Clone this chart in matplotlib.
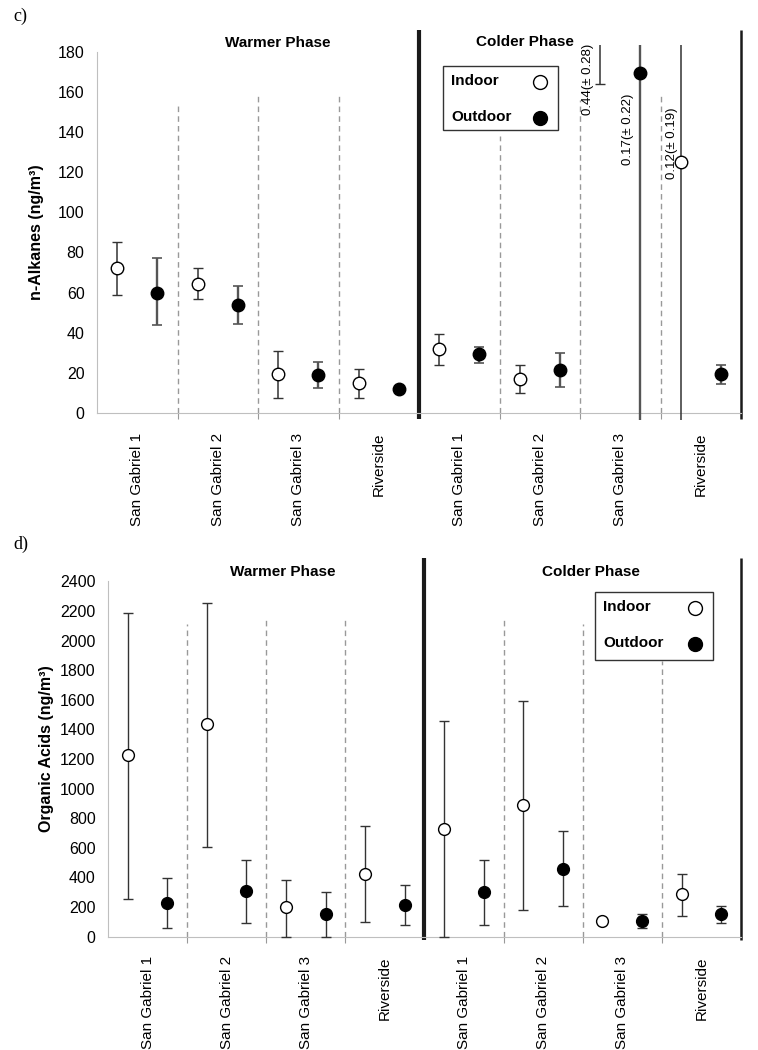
import numpy as np
import matplotlib
matplotlib.use("Agg")
import matplotlib.pyplot as plt
from matplotlib.lines import Line2D
from matplotlib.patches import Rectangle

plt.rcParams['font.family'] = ['Liberation Sans', 'DejaVu Sans']

sites = ['San Gabriel 1', 'San Gabriel 2', 'San Gabriel 3', 'Riverside',
         'San Gabriel 1', 'San Gabriel 2', 'San Gabriel 3', 'Riverside']

# c) n-alkanes (ng/m3)
alk_in = [72, 64.5, 19.5, 15, 32, 17, 440, 125]
alk_in_lo = [13, 7.5, 12, 7.5, 8.2, 7, 276, 190]
alk_in_hi = [13, 7.5, 11.5, 7, 7.5, 7, 280, 190]
alk_out = [60, 54, 19, 12, 29.5, 21.5, 169.5, 19.5]
alk_out_lo = [16, 9.5, 6.5, 1, 4.4, 8.6, 220, 5]
alk_out_hi = [17, 9.5, 6.5, 1, 3.6, 8.3, 220, 4.5]
alk_notes = ['0.44(± 0.28)', '0.17(± 0.22)', '0.12(± 0.19)']

# d) organic acids (ng/m3)
org_in = [1225, 1435, 200, 425, 725, 890, 105, 285]
org_in_lo = [970, 830, 200, 325, 725, 710, 0, 145]
org_in_hi = [965, 820, 180, 325, 730, 705, 0, 140]
org_out = [230, 310, 150, 215, 300, 460, 105, 150]
org_out_lo = [170, 215, 150, 135, 220, 255, 45, 60]
org_out_hi = [165, 210, 155, 135, 215, 255, 45, 55]

W, H = 758, 1050
fig = plt.figure(figsize=(W / 100, H / 100), dpi=100)
ax1 = fig.add_axes([0.128, 0.600, 0.8496, 0.3574])
ax2 = fig.add_axes([0.1425, 0.1044, 0.835, 0.3644])

x = np.arange(8)


def style_axis(ax, ylim, ymax, step, sep_tops):
    ax.set_xlim(0, 8)
    ax.set_ylim(*ylim)
    for s in ['top', 'right']:
        ax.spines[s].set_visible(False)
    ax.spines['left'].set_bounds(0, ymax)
    ax.spines['bottom'].set_position(('data', 0))
    for s in ['left', 'bottom']:
        ax.spines[s].set_color('#bfbfbf')
    ax.set_yticks(np.arange(0, ymax + 1, step))
    ax.tick_params(axis='y', length=0, pad=9, labelsize=11.5)
    ax.set_xticks([1, 2, 3, 5, 6, 7])
    ax.tick_params(axis='x', which='major', length=4, color='#999999', labelbottom=False)
    ax.set_xticks(x + 0.5, minor=True)
    ax.set_xticklabels(sites, minor=True, rotation=90, fontsize=11, va='top')
    ax.tick_params(axis='x', which='minor', length=0, pad=14)
    ax.vlines([1, 2, 3, 5, 6, 7], 0, sep_tops, colors='#999999',
              linestyles=(0, (4, 3)), lw=1)


style_axis(ax1, (-3.5, 183.5), 180, 20, [155, 158, 158, 138, 156, 158])
style_axis(ax2, (-25, 2560), 2400, 200, [2110, 2150, 2160, 2140, 2110, 1860])

# phase dividers
ax1.vlines(4, -3, 191, colors='#1a1a1a', lw=3, clip_on=False)
ax1.vlines(8, -3, 191, colors='#1a1a1a', lw=1.8, clip_on=False)
ax2.vlines(4, -25, 2560, colors='#1a1a1a', lw=3, clip_on=False)
ax2.vlines(8, -25, 2560, colors='#1a1a1a', lw=1.8, clip_on=False)

# data
ax1.errorbar(x + 0.25, alk_in, yerr=[alk_in_lo, alk_in_hi], fmt='o', ms=9,
             mfc='white', mec='black', mew=1, ecolor='#333333', elinewidth=1.1,
             capsize=3.5, capthick=1.1, zorder=3)
ax1.errorbar(x + 0.75, alk_out, yerr=[alk_out_lo, alk_out_hi], fmt='o', ms=9,
             mfc='black', mec='black', ecolor='#555555', elinewidth=1.7,
             capsize=3.5, capthick=1.2, zorder=3)
ax2.errorbar(x + 0.25, org_in, yerr=[org_in_lo, org_in_hi], fmt='o', ms=8.5,
             mfc='white', mec='black', mew=1, ecolor='#333333', elinewidth=1,
             capsize=3.5, capthick=1, zorder=3)
ax2.errorbar(x + 0.75, org_out, yerr=[org_out_lo, org_out_hi], fmt='o', ms=8.5,
             mfc='black', mec='black', ecolor='#333333', elinewidth=1,
             capsize=3.5, capthick=1, zorder=3)

# notes for off-scale values
ax1.text(6.10, 166, alk_notes[0], rotation=90, ha='center', va='center', fontsize=9.5)
ax1.text(6.60, 141.5, alk_notes[1], rotation=90, ha='center', va='center', fontsize=9.5)
ax1.text(7.14, 134.5, alk_notes[2], rotation=90, ha='center', va='center', fontsize=9.5)

# phase titles
ax1.text(2.25, 184.5, 'Warmer Phase', ha='center', va='center', fontsize=11, weight='bold')
ax1.text(5.32, 185, 'Colder Phase', ha='center', va='center', fontsize=11, weight='bold')
ax2.text(2.21, 2466, 'Warmer Phase', ha='center', va='center', fontsize=11, weight='bold')
ax2.text(6.11, 2466, 'Colder Phase', ha='center', va='center', fontsize=11, weight='bold')

ax1.set_ylabel('n-Alkanes (ng/m³)', fontsize=11.5, weight='bold')
ax2.set_ylabel('Organic Acids (ng/m³)', fontsize=11.5, weight='bold')
ax1.yaxis.set_label_coords(-0.083, 0.5)
ax2.yaxis.set_label_coords(-0.085, 0.5)


def legend_box(x0, y0, x1, y1):
    # boxed key: text left, marker right (pixel positions, top-left origin)
    fig.patches.append(Rectangle((x0 / W, 1 - y1 / H), (x1 - x0) / W, (y1 - y0) / H,
                                 transform=fig.transFigure, fill=False,
                                 ec='#333333', lw=1))
    rows = [('Indoor', 'white', y0 + 15), ('Outdoor', 'black', y0 + 51)]
    for label, fc, yy in rows:
        fig.text((x0 + 8) / W, 1 - yy / H, label, fontsize=11, weight='bold',
                 va='center', ha='left')
        fig.lines.append(Line2D([(x1 - 18) / W], [1 - (yy + 1) / H], marker='o',
                                ms=10, mfc=fc, mec='black', mew=1, ls='none',
                                transform=fig.transFigure))


legend_box(443, 66, 558, 130)
legend_box(595, 592, 713, 660)

fig.text(13 / W, 1 - 8 / H, 'c)', family='Liberation Serif', fontsize=13, va='top')
fig.text(13 / W, 1 - 536 / H, 'd)', family='Liberation Serif', fontsize=13, va='top')

fig.savefig('out.png', dpi=100)
